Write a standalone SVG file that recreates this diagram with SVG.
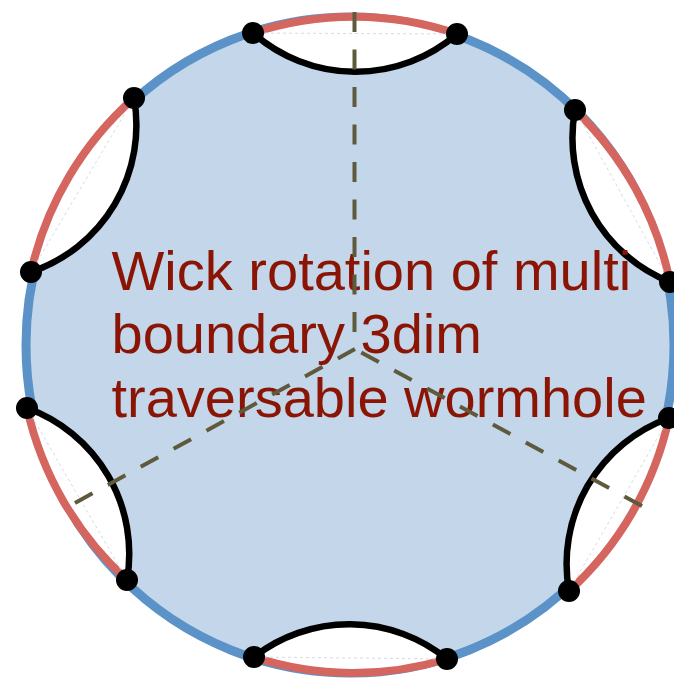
<svg xmlns="http://www.w3.org/2000/svg" width="674" height="680" viewBox="0 0 674 680">
<style>
.gap{fill:#ffffff;stroke:none}
.red{fill:none;stroke:#d4665f;stroke-width:8}
.chord{fill:none;stroke:#d5dce5;stroke-width:1;stroke-dasharray:3 3}
.geo{fill:none;stroke:#000000;stroke-width:6.5;stroke-linecap:round}
.dot{fill:#000000}
.dash{fill:none;stroke:#5f5a3c;stroke-width:4;stroke-dasharray:20 17.5}
.label{font-family:"Liberation Sans",Arial,sans-serif;font-size:56px;fill:#8b1505}
</style>
<g id="disk">
<ellipse cx="350" cy="345" rx="324" ry="328" fill="#c3d6ea" stroke="#5b93c8" stroke-width="9"/>
</g>
<g id="boundary-top">
<path class="gap" d="M253,33 A324,328 0 0 1 457,34 A155,155 0 0 1 253,33 Z"/>
<path class="red" d="M253,33 A324,328 0 0 1 457,34"/>
<line class="chord" x1="253" y1="33" x2="457" y2="34"/>
<path class="geo" d="M253,33 A155,155 0 0 0 457,34"/>
</g>
<g id="boundary-upper-right">
<path class="gap" d="M575,110 A324,328 0 0 1 670,282 A155,155 0 0 1 575,110 Z"/>
<path class="red" d="M575,110 A324,328 0 0 1 670,282"/>
<line class="chord" x1="575" y1="110" x2="670" y2="282"/>
<path class="geo" d="M575,110 A155,155 0 0 0 670,282"/>
</g>
<g id="boundary-lower-right">
<path class="gap" d="M669,418 A324,328 0 0 1 569,591 A155,155 0 0 1 669,418 Z"/>
<path class="red" d="M669,418 A324,328 0 0 1 569,591"/>
<line class="chord" x1="669" y1="418" x2="569" y2="591"/>
<path class="geo" d="M669,418 A155,155 0 0 0 569,591"/>
</g>
<g id="boundary-bottom">
<path class="gap" d="M447,659 A324,328 0 0 1 254,657 A155,155 0 0 1 447,659 Z"/>
<path class="red" d="M447,659 A324,328 0 0 1 254,657"/>
<line class="chord" x1="447" y1="659" x2="254" y2="657"/>
<path class="geo" d="M447,659 A155,155 0 0 0 254,657"/>
</g>
<g id="boundary-lower-left">
<path class="gap" d="M127,580 A324,328 0 0 1 27,408 A155,155 0 0 1 127,580 Z"/>
<path class="red" d="M127,580 A324,328 0 0 1 27,408"/>
<line class="chord" x1="127" y1="580" x2="27" y2="408"/>
<path class="geo" d="M127,580 A155,155 0 0 0 27,408"/>
</g>
<g id="boundary-upper-left">
<path class="gap" d="M31,272 A324,328 0 0 1 134,98 A155,155 0 0 1 31,272 Z"/>
<path class="red" d="M31,272 A324,328 0 0 1 134,98"/>
<line class="chord" x1="31" y1="272" x2="134" y2="98"/>
<path class="geo" d="M31,272 A155,155 0 0 0 134,98"/>
</g>
<g id="label">
<text class="label" x="111.5" y="290">Wick rotation of multi</text>
<text class="label" x="111.5" y="353">boundary 3dim</text>
<text class="label" x="111.5" y="417">traversable wormhole</text>
</g>
<g id="connectors">
<path class="dash" d="M354.5,12 L354.5,349"/>
<path class="dash" d="M75,503 L355,349"/>
<path class="dash" d="M642,506 L355,349"/>
</g>
<g id="points">
<circle class="dot" cx="253" cy="33" r="11"/>
<circle class="dot" cx="457" cy="34" r="11"/>
<circle class="dot" cx="575" cy="110" r="11"/>
<circle class="dot" cx="670" cy="282" r="11"/>
<circle class="dot" cx="669" cy="418" r="11"/>
<circle class="dot" cx="569" cy="591" r="11"/>
<circle class="dot" cx="447" cy="659" r="11"/>
<circle class="dot" cx="254" cy="657" r="11"/>
<circle class="dot" cx="127" cy="580" r="11"/>
<circle class="dot" cx="27" cy="408" r="11"/>
<circle class="dot" cx="31" cy="272" r="11"/>
<circle class="dot" cx="134" cy="98" r="11"/>
</g>
</svg>
